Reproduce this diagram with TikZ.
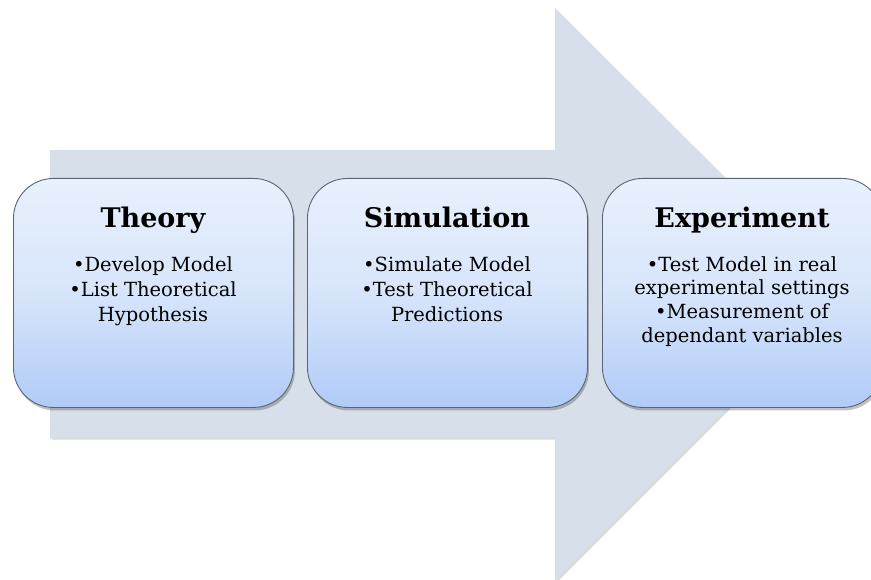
\documentclass[tikz,border=0pt]{standalone}
\usepackage{fontspec}
\setmainfont{DejaVu Serif}
\usetikzlibrary{shadows}
\definecolor{arrowfill}{HTML}{D7DFEA}
\definecolor{boxtop}{HTML}{E8F0FC}
\definecolor{boxbot}{HTML}{B0CBF7}
\definecolor{boxline}{HTML}{5A6573}
\tikzset{
  stagebox/.style={draw=boxline, line width=0.9pt, rounded corners=40pt,
    top color=boxtop, bottom color=boxbot, middle color=boxtop!70!boxbot,
    minimum width=280pt, minimum height=229pt, anchor=north west,
    drop shadow={shadow xshift=1.5pt, shadow yshift=-3pt, opacity=0.35, fill=black!70}},
  titletext/.style={font=\fontsize{27}{30}\selectfont\bfseries, anchor=base, inner sep=0pt},
  bodytext/.style={font=\fontsize{19.5}{24}\selectfont, anchor=base, inner sep=0pt}
}
\begin{document}
\begin{tikzpicture}[x=1pt,y=-1pt]
\useasboundingbox (0,0) rectangle (871,580);
% big arrow
\fill[arrowfill, drop shadow={shadow xshift=1.5pt, shadow yshift=-1.5pt, opacity=0.25, fill=black!60}]
  (50,150) -- (555,150) -- (555,8) -- (842,294) -- (555,581) -- (555,438) -- (50,438) -- cycle;
% boxes
\node[stagebox] (theory) at (13,178) {};
\node[stagebox] (sim) at (307,178) {};
\node[stagebox] (exp) at (602,178) {};
% texts
\node[titletext] (t1) at (153,228) {Theory};
\node[bodytext] (b11) at (153,272) {•Develop Model};
\node[bodytext] (b12) at (153,297) {•List Theoretical};
\node[bodytext] (b13) at (153,322) {Hypothesis};
\node[titletext] (t2) at (447,228) {Simulation};
\node[bodytext] (b21) at (447,272) {•Simulate Model};
\node[bodytext] (b22) at (447,297) {•Test Theoretical};
\node[bodytext] (b23) at (447,322) {Predictions};
\node[titletext] (t3) at (742,228) {Experiment};
\node[bodytext] (b31) at (742,272) {•Test Model in real};
\node[bodytext] (b32) at (742,295) {experimental settings};
\node[bodytext] (b41) at (742,319) {•Measurement of};
\node[bodytext] (b42) at (742,343) {dependant variables};
\end{tikzpicture}
\end{document}
